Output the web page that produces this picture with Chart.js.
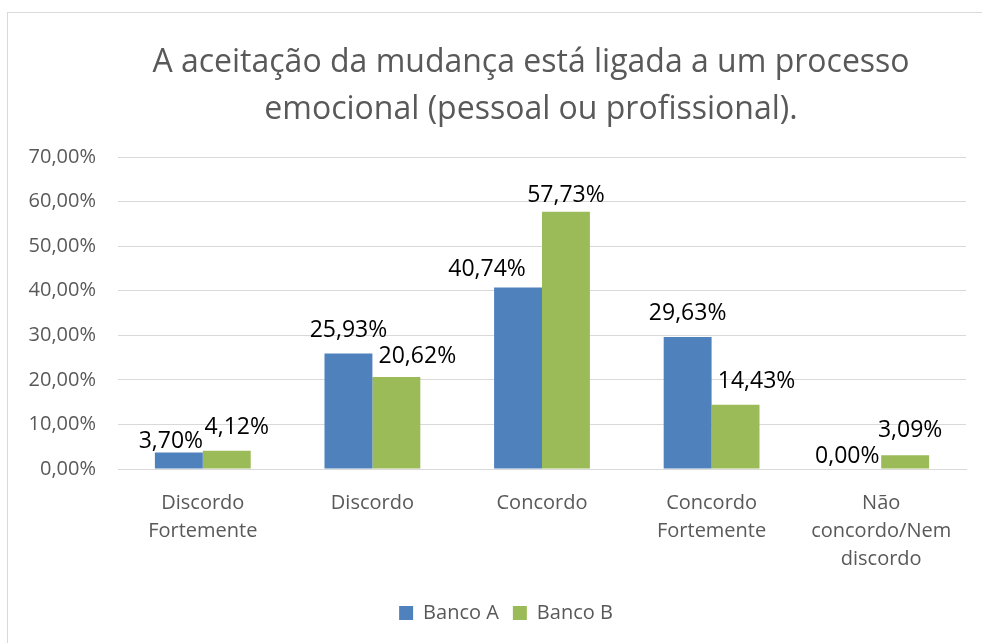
<!DOCTYPE html>
<html>
<head>
<meta charset="utf-8">
<script src="https://cdn.jsdelivr.net/npm/chart.js@4"></script>
<style>
  html, body { margin: 0; padding: 0; overflow: hidden; background: #fff; }
  #frame { position: absolute; left: 7px; top: 12px; width: 1100px; height: 800px; border: 1px solid #d9d9d9; box-sizing: border-box; }
  #wrap { position: absolute; left: 0; top: 0; width: 982px; height: 643px; }
</style>
</head>
<body>
<div id="frame"></div>
<div id="wrap"><canvas id="c" width="982" height="643"></canvas></div>
<script>
const categories = [["Discordo", "Fortemente"], "Discordo", "Concordo", ["Concordo", "Fortemente"], ["Não", "concordo/Nem", "discordo"]];
const seriesNames = ["Banco A", "Banco B"];
const bancoA = [3.70, 25.93, 40.74, 29.63, 0.00];
const bancoB = [4.12, 20.62, 57.73, 14.43, 3.09];
const yTickValues = [0, 10, 20, 30, 40, 50, 60, 70];
const titleLines = ["A aceitação da mudança está ligada a um processo", "emocional (pessoal ou profissional)."];

const fmt = v => v.toFixed(2).replace('.', ',') + '%';
const FONT = "'Open Sans', 'DejaVu Sans', sans-serif";

// label nudges (px) to mimic the reference's manually placed labels
const labelNudges = [
  [[-8, 12], [0, 0], [-31, 5], [0, -1], [-10, 10]],
  [[10, 0], [21, 2], [0, 7], [21, 0], [5, -2]]
];

const dataLabelPlugin = {
  id: 'dataLabels',
  afterDatasetsDraw(chart) {
    const ctx = chart.ctx;
    ctx.save();
    ctx.font = "23px " + FONT;
    ctx.fillStyle = '#000';
    ctx.textAlign = 'center';
    ctx.textBaseline = 'middle';
    chart.data.datasets.forEach((ds, di) => {
      const meta = chart.getDatasetMeta(di);
      meta.data.forEach((bar, i) => {
        const n = labelNudges[di][i];
        ctx.fillText(fmt(ds.data[i]), bar.x + n[0], bar.y - 23 + n[1]);
      });
    });
    ctx.restore();
  }
};

// the original chart frame is wider than the visible window: shift title / legend centres
const shiftPlugin = {
  id: 'shiftBoxes',
  afterLayout(chart) {
    const t = chart.titleBlock, l = chart.legend;
    if (t) { t.left += 48; t.right += 48; }
    if (l) { l.left += 23; l.right += 23; }
  }
};

new Chart(document.getElementById('c'), {
  type: 'bar',
  data: {
    labels: categories,
    datasets: [
      { label: seriesNames[0], data: bancoA, backgroundColor: '#4F81BD', categoryPercentage: 0.565, barPercentage: 1.0 },
      { label: seriesNames[1], data: bancoB, backgroundColor: '#9BBB59', categoryPercentage: 0.565, barPercentage: 1.0 }
    ]
  },
  options: {
    responsive: false,
    animation: false,
    devicePixelRatio: 1,
    layout: { padding: { left: 0, right: 16, top: 0, bottom: 10 } },
    plugins: {
      title: {
        display: true,
        text: titleLines,
        color: '#595959',
        font: { family: FONT, size: 32, weight: 'normal', lineHeight: 1.47 },
        padding: { top: 39, bottom: 24 }
      },
      legend: {
        position: 'bottom',
        labels: {
          color: '#595959',
          font: { family: FONT, size: 20 },
          boxWidth: 14, boxHeight: 14, padding: 14
        }
      },
      tooltip: { enabled: false }
    },
    scales: {
      x: {
        grid: { display: false, drawTicks: false },
        border: { color: '#d9d9d9' },
        ticks: { color: '#595959', font: { family: FONT, size: 20, lineHeight: 1.4 }, padding: 20, maxRotation: 0, autoSkip: false },
        afterFit(axis) { axis.height = 120; }
      },
      y: {
        min: 0, max: 70,
        afterBuildTicks(axis) { axis.ticks = yTickValues.map(v => ({ value: v })); },
        grid: { color: '#d9d9d9', drawTicks: false },
        border: { display: false },
        ticks: { color: '#595959', font: { family: FONT, size: 20 }, padding: 22, callback: v => fmt(v) },
        afterFit(axis) { axis.width = 118; }
      }
    }
  },
  plugins: [dataLabelPlugin, shiftPlugin]
});
</script>
</body>
</html>
